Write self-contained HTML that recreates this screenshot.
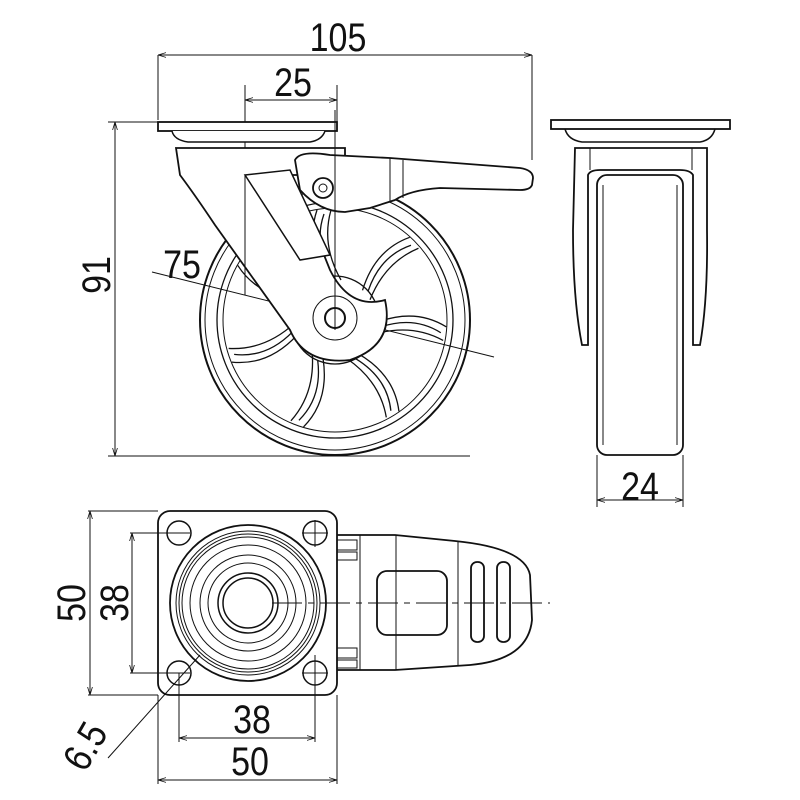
<!DOCTYPE html>
<html><head><style>html,body{margin:0;padding:0;background:#fff}svg{display:block}
text{font-family:"Liberation Sans",sans-serif;font-size:40px;fill:#111}</style></head>
<body>
<svg width="800" height="800" viewBox="0 0 800 800" xmlns="http://www.w3.org/2000/svg">
<defs>
<marker id="a" viewBox="0 0 10 10" refX="10" refY="5" markerWidth="8" markerHeight="8" orient="auto-start-reverse"><path d="M0,2 L10,5 L0,8" fill="none" stroke="#111" stroke-width="1"/></marker>
<g id="sp"><path d="M-6,-40 Q-30,-75 -18,-110 M6,-40 Q-14,-75 -4,-110 M-2,-44 Q-22,-75 -11,-106" fill="none" stroke="#111" stroke-width="1.3"/></g>
</defs>
<g fill="none" stroke="#111" stroke-width="1">
<line x1="158" y1="55" x2="158" y2="120"/><line x1="532" y1="55" x2="532" y2="160"/>
<line x1="158" y1="55" x2="532" y2="55" marker-start="url(#a)" marker-end="url(#a)"/>
<line x1="245" y1="85" x2="245" y2="290"/><line x1="337" y1="85" x2="337" y2="122"/>
<line x1="245" y1="100" x2="337" y2="100" marker-start="url(#a)" marker-end="url(#a)"/>
<line x1="108" y1="122" x2="158" y2="122"/><line x1="108" y1="456" x2="470" y2="456"/>
<line x1="115" y1="122" x2="115" y2="456" marker-start="url(#a)" marker-end="url(#a)"/>
<line x1="152" y1="272" x2="494" y2="357"/>
<!-- wheel -->
<circle cx="335" cy="320" r="135" stroke-width="2"/>
<circle cx="335" cy="320" r="130"/>
<circle cx="335" cy="320" r="118" stroke-width="1.3"/>
<circle cx="335" cy="320" r="112"/>
<circle cx="335" cy="320" r="44" stroke-width="1.3"/>
<g transform="translate(335,320)">
<use href="#sp"/><use href="#sp" transform="rotate(51.4)"/><use href="#sp" transform="rotate(102.8)"/><use href="#sp" transform="rotate(154.3)"/><use href="#sp" transform="rotate(205.7)"/><use href="#sp" transform="rotate(257.1)"/><use href="#sp" transform="rotate(308.6)"/>
</g>
<!-- fork -->
<path d="M176,148 H345 V175 H292 L330,270 Q350,310 385,300 Q395,345 350,360 Q305,365 290,330 L215,225 Q195,195 180,175 Z" fill="#fff" stroke-width="1.8"/>
<path d="M245,175 L290,170 L330,255 L300,260 Z" fill="#fff" stroke-width="1.5"/>
<circle cx="335" cy="318" r="22"/><circle cx="335" cy="318" r="10" stroke-width="2"/>
<line x1="245" y1="175" x2="245" y2="295"/>
<rect x="158" y="122" width="179" height="9" fill="#fff" stroke-width="1.8"/>
<path d="M172,131 Q174,140 188,142 H310 Q322,140 325,131" fill="#fff" stroke-width="1.5"/>
<!-- lever -->
<path d="M295,160 Q300,150 330,155 L390,158 L520,168 Q533,170 533,178 L532,185 Q530,190 520,190 L440,188 Q410,190 395,200 L370,208 L345,212 Q320,212 300,190 Z" fill="#fff" stroke-width="1.8"/>
<line x1="390" y1="158" x2="390" y2="202"/><line x1="403" y1="160" x2="403" y2="198"/>
<circle cx="323" cy="188" r="10" stroke-width="1.8"/><circle cx="323" cy="188" r="4"/>
<line x1="335" y1="110" x2="335" y2="330"/>
<!-- side view -->
<rect x="551" y="120" width="179" height="9" stroke-width="1.8"/>
<path d="M565,129 Q568,140 582,142 H700 Q712,140 715,129" stroke-width="1.5"/>
<path d="M575,148 H707 V230 Q708,300 700,345 L693,345 L693,175 Q690,170 680,170 H600 Q590,170 588,175 V345 L582,345 Q573,300 573,230 Z" stroke-width="1.8"/>
<line x1="590" y1="148" x2="590" y2="170"/><line x1="692" y1="148" x2="692" y2="170"/>
<rect x="597" y="175" width="86" height="280" rx="10" stroke-width="1.8" fill="#fff"/>
<line x1="603" y1="185" x2="603" y2="445"/><line x1="677" y1="185" x2="677" y2="445"/>
<line x1="597" y1="455" x2="597" y2="507"/><line x1="683" y1="455" x2="683" y2="507"/>
<line x1="597" y1="500" x2="683" y2="500" marker-start="url(#a)" marker-end="url(#a)"/>
<!-- bottom view -->
<rect x="158" y="511" width="179" height="184" rx="12" stroke-width="1.8"/>
<circle cx="248" cy="603" r="78" stroke-width="1.8"/>
<circle cx="248" cy="603" r="72"/><circle cx="248" cy="603" r="69"/><circle cx="248" cy="603" r="66"/>
<circle cx="248" cy="603" r="58"/><circle cx="248" cy="603" r="48"/><circle cx="248" cy="603" r="40"/>
<circle cx="248" cy="603" r="30" stroke-width="1.5"/><circle cx="248" cy="603" r="25" stroke-width="1.5"/>
<circle cx="179" cy="533" r="12" stroke-width="1.5"/><circle cx="315" cy="533" r="12" stroke-width="1.5"/>
<circle cx="179" cy="673" r="12" stroke-width="1.5"/><circle cx="315" cy="673" r="12" stroke-width="1.5"/>
<path d="M337,535 H395 L455,541 Q525,548 530,575 L532,620 Q528,660 470,665 L395,670 H337" stroke-width="1.8"/>
<line x1="360" y1="535" x2="360" y2="670"/><line x1="396" y1="535" x2="396" y2="670"/>
<line x1="458" y1="541" x2="458" y2="665"/>
<rect x="377" y="571" width="70" height="64" rx="10" stroke-width="1.8"/>
<rect x="471" y="562" width="13" height="80" rx="6" stroke-width="1.8"/><rect x="497" y="562" width="13" height="80" rx="6" stroke-width="1.8"/>
<path d="M337,540 h20 v10 h-20 M337,552 h20 v8 h-20 M337,648 h20 v10 h-20 M337,660 h20 v8 h-20"/>
<line x1="272" y1="603" x2="550" y2="603" stroke-dasharray="30,6,6,6"/>
<line x1="315" y1="520" x2="315" y2="547"/><line x1="302" y1="533" x2="328" y2="533"/>
<line x1="302" y1="673" x2="328" y2="673"/>
<line x1="130" y1="533" x2="190" y2="533"/><line x1="130" y1="673" x2="190" y2="673"/>
<line x1="132" y1="533" x2="132" y2="673" marker-start="url(#a)" marker-end="url(#a)"/>
<line x1="88" y1="511" x2="158" y2="511"/><line x1="88" y1="695" x2="158" y2="695"/>
<line x1="90" y1="511" x2="90" y2="695" marker-start="url(#a)" marker-end="url(#a)"/>
<line x1="179" y1="673" x2="179" y2="742"/><line x1="315" y1="655" x2="315" y2="742"/>
<line x1="179" y1="738" x2="315" y2="738" marker-start="url(#a)" marker-end="url(#a)"/>
<line x1="158" y1="695" x2="158" y2="784"/><line x1="337" y1="695" x2="337" y2="784"/>
<line x1="158" y1="780" x2="337" y2="780" marker-start="url(#a)" marker-end="url(#a)"/>
<line x1="108" y1="758" x2="200" y2="655"/>
</g>
<g>
<text transform="translate(338,51) scale(0.85,1)" text-anchor="middle">105</text>
<text transform="translate(293,96) scale(0.85,1)" text-anchor="middle">25</text>
<text transform="translate(110,275) rotate(-90) scale(0.85,1)" text-anchor="middle">91</text>
<text transform="translate(182,278) scale(0.85,1)" text-anchor="middle">75</text>
<text transform="translate(640,500) scale(0.85,1)" text-anchor="middle">24</text>
<text transform="translate(85,603) rotate(-90) scale(0.85,1)" text-anchor="middle">50</text>
<text transform="translate(128,603) rotate(-90) scale(0.85,1)" text-anchor="middle">38</text>
<text transform="translate(252,733) scale(0.85,1)" text-anchor="middle">38</text>
<text transform="translate(250,775) scale(0.85,1)" text-anchor="middle">50</text>
<text transform="translate(97,753) rotate(-60) scale(0.85,1)" text-anchor="middle">6.5</text>
</g>
</svg>
</body></html>
